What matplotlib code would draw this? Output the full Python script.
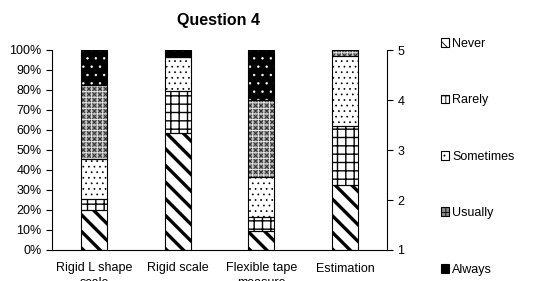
import matplotlib
matplotlib.use("Agg")
import matplotlib.pyplot as plt
from matplotlib.patches import Patch
import numpy as np

plt.rcParams['font.family'] = ['Liberation Sans', 'DejaVu Sans']

categories = ["Rigid L shape\nscale", "Rigid scale", "Flexible tape\nmeasure", "Estimation"]
series = ["Never", "Rarely", "Sometimes", "Usually", "Always"]
never = [19.9, 58.5, 9.6, 32.5]
rarely = [5.8, 21.1, 6.7, 29.4]
sometimes = [19.9, 17.1, 20.2, 35.1]
usually = [37.0, 0.0, 38.3, 3.0]
always = [17.4, 3.3, 25.2, 0.0]
values = [never, rarely, sometimes, usually, always]
right_ticks = [1, 2, 3, 4, 5]
left_ticks = list(range(0, 101, 10))

# layers: (face, hatch, hatch colour, hatch linewidth)
styles = {
    "Never": [("white", "\\\\", "black", 2.4)],
    "Rarely": [("white", "++", "black", 1.0)],
    "Sometimes": [("white", "...", "black", 0.5)],
    "Usually": [("#9a9a9a", "xxxxxx", "#333333", 0.7), ("none", "+++", "#eeeeee", 0.6)],
    "Always": [("black", "..", "white", 0.5)],
}

fig = plt.figure(figsize=(5.36, 2.81), dpi=100)
ax = fig.add_axes([52/536, 1 - 250/281, (387-52)/536, 200/281])
x = np.arange(len(categories))
w = 0.31
bottom = np.zeros(len(categories))
for name, vals in zip(series, values):
    for face, hatch, hcol, hlw in styles[name]:
        plt.rcParams['hatch.linewidth'] = hlw
        ax.bar(x, vals, w, bottom=bottom, color=face, hatch=hatch,
               edgecolor=hcol, linewidth=0, zorder=2)
    ax.bar(x, vals, w, bottom=bottom, fill=False, edgecolor="black",
           linewidth=0.8, zorder=3)
    bottom += np.array(vals)

ax.set_xlim(-0.5, len(categories) - 0.5)
ax.set_ylim(0, 100)
ax.set_yticks(left_ticks)
ax.set_yticklabels([f"{t}%" for t in left_ticks], fontsize=9)
ax.set_xticks(x)
ax.set_xticklabels(categories, fontsize=9, linespacing=1.3)
ax.tick_params(axis='x', length=0, pad=9)
ax.tick_params(axis='y', length=4, direction='out', width=0.8)
ax.spines["top"].set_visible(False)
ax.spines["left"].set_linewidth(0.8)
ax.spines["bottom"].set_linewidth(0.8)
ax.spines["right"].set_visible(False)

ax2 = ax.twinx()
ax2.set_ylim(1, 5)
ax2.set_yticks(right_ticks)
ax2.set_yticklabels([str(t) for t in right_ticks], fontsize=9)
ax2.tick_params(axis='y', length=4, width=0.8)
ax2.spines["top"].set_visible(False)
ax2.spines["left"].set_visible(False)
ax2.spines["bottom"].set_visible(False)
ax2.spines["right"].set_linewidth(0.8)

fig.text(0.407, 1 - 20/281, "Question 4", ha="center", va="center",
         fontsize=11.5, fontweight="bold")

handles = []
for name in series:
    face, hatch, hcol, hlw = styles[name][0]
    if name == "Usually":
        handles.append(Patch(facecolor="#8a8a8a", hatch="++", edgecolor="black", linewidth=0.8))
    else:
        handles.append(Patch(facecolor=face, hatch=hatch, edgecolor="black", linewidth=0.8))
plt.rcParams['hatch.linewidth'] = 0.6
leg = fig.legend(handles, series, loc="upper left", bbox_to_anchor=(0.822, 1 - 38/281),
                 frameon=False, fontsize=9, handlelength=0.7, handleheight=0.7,
                 handletextpad=0.25, labelspacing=3.55, borderpad=0, borderaxespad=0)

fig.savefig("out.png", dpi=100)
